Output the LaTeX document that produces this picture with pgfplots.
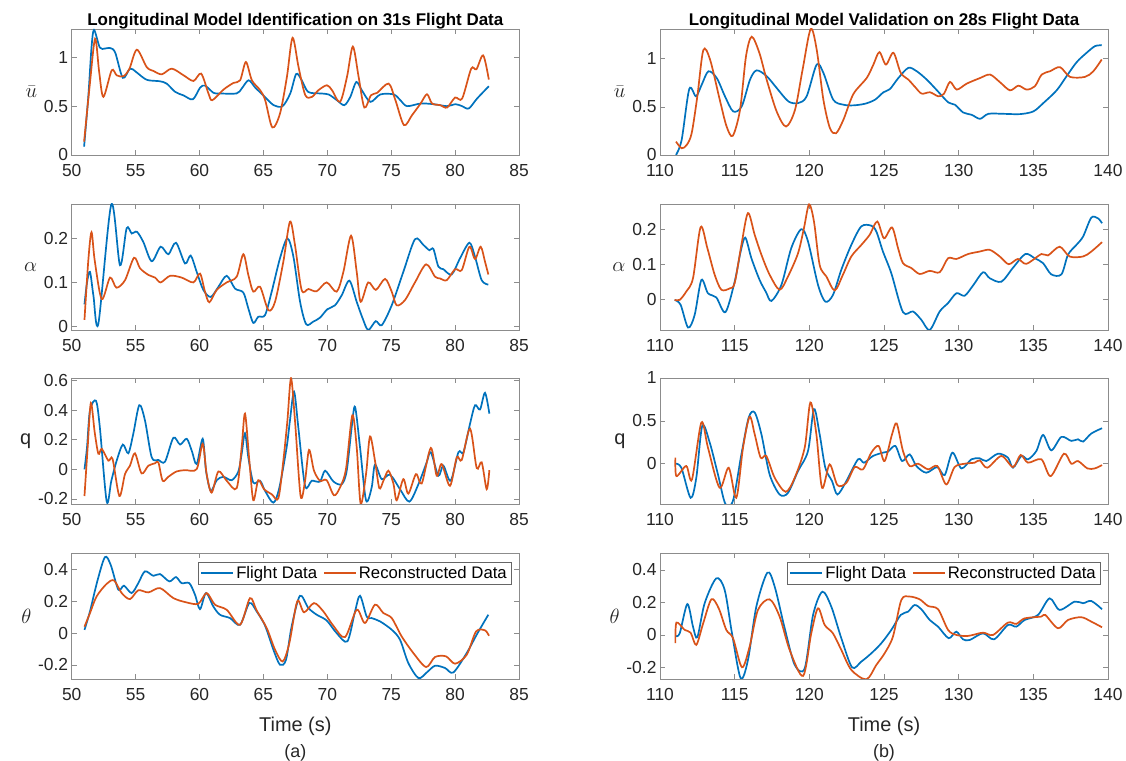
\documentclass[border=0pt]{standalone}
\usepackage{fontspec}
\setmainfont{Liberation Sans}
\usepackage{pgfplots}
\pgfplotsset{compat=1.18}

\definecolor{mblue}{rgb}{0,0.447,0.741}
\definecolor{morange}{rgb}{0.850,0.325,0.098}
\definecolor{axgray}{rgb}{0.55,0.55,0.55}
\definecolor{txt}{rgb}{0.15,0.15,0.15}

\pgfplotsset{
  panel/.style={
    scale only axis, anchor=south west, height=126bp,
    axis line style={draw=axgray, line width=0.7bp},
    every tick/.style={draw=axgray, line width=0.7bp},
    major tick length=5bp, tick align=inside,
    tick label style={font=\fontsize{17.5}{20}\selectfont, text=txt},
    xticklabel style={yshift=-6bp},
    /pgf/number format/assume math mode=true,
    ylabel style={rotate=-90, anchor=east, font=\fontsize{20}{22}\selectfont, text=txt},
    every axis plot/.append style={line width=1.7bp, smooth},
  },
  leftp/.style={panel, width=447.3bp, xmin=50, xmax=85, xtick={50,55,...,85}},
  rightp/.style={panel, width=448bp, xmin=110, xmax=140, xtick={110,115,...,140}},
  leg/.style={
    legend columns=2,
    legend style={at={(1,1)}, anchor=north east, xshift=-8bp, yshift=-9bp,
      draw=black!60, font=\fontsize{16.8}{18}\selectfont, text=black,
      inner sep=2bp, /tikz/every even column/.append style={column sep=4bp}},
    legend image code/.code={\draw[##1, line width=1.7bp] (0bp,0bp) -- (32bp,0bp);},
  },
}

\begin{document}
\begin{tikzpicture}
\path[use as bounding box] (0,0) rectangle (1126bp,761bp);

% ---------- left column ----------
\begin{axis}[leftp, at={(71.7bp,606bp)}, ymin=0, ymax=1.29, ytick={0,0.5,1}, ylabel={$\bar{u}$}]
\addplot[mblue] coordinates {(50.97,0.085)(51.3,0.6)(51.55,1.1)(51.75,1.28)(52.2,1.1)(52.6,1.09)(53.0,1.095)(53.4,1.05)(54.0,0.79)(54.57,0.885)(55.04,0.85)(55.87,0.77)(56.9,0.755)(57.44,0.73)(58.1,0.646)(58.75,0.61)(59.48,0.57)(60.05,0.69)(60.44,0.71)(61.1,0.636)(61.6,0.63)(62.9,0.63)(63.3,0.68)(63.84,0.765)(64.36,0.69)(65.0,0.61)(65.8,0.51)(66.5,0.50)(67.1,0.63)(67.57,0.83)(68.0,0.765)(68.5,0.646)(69.45,0.63)(70.1,0.62)(70.76,0.56)(71.33,0.51)(71.8,0.595)(72.27,0.748)(72.7,0.663)(73.37,0.544)(74.15,0.62)(75.2,0.62)(75.72,0.56)(76.24,0.50)(77.3,0.527)(78.33,0.52)(79.37,0.50)(80.03,0.52)(80.55,0.50)(81.07,0.476)(81.72,0.578)(82.64,0.704)};
\addplot[morange] coordinates {(50.97,0.136)(51.4,0.7)(51.83,1.19)(52.15,0.85)(52.48,0.595)(53.13,0.867)(53.52,0.816)(54.05,0.806)(54.52,0.884)(55.1,1.078)(55.87,0.90)(56.4,0.86)(57.05,0.826)(57.83,0.884)(58.75,0.816)(59.53,0.758)(60.13,0.833)(60.7,0.63)(61.0,0.561)(61.88,0.67)(62.66,0.738)(63.18,0.765)(63.63,0.952)(64.1,0.765)(64.75,0.663)(65.14,0.561)(65.7,0.282)(66.3,0.425)(66.84,0.80)(67.28,1.20)(67.75,0.90)(68.28,0.612)(68.8,0.595)(69.3,0.663)(69.97,0.714)(70.37,0.663)(71.0,0.544)(71.54,0.80)(72.0,1.11)(72.45,0.80)(72.9,0.486)(73.42,0.612)(73.9,0.636)(74.8,0.731)(75.33,0.561)(76.0,0.306)(76.63,0.408)(77.3,0.527)(77.8,0.622)(78.2,0.527)(78.85,0.51)(79.37,0.486)(80.0,0.588)(80.55,0.578)(81.26,0.884)(81.67,0.878)(82.2,1.02)(82.64,0.772)};
\end{axis}

\begin{axis}[leftp, at={(71.7bp,431bp)}, ymin=-0.008, ymax=0.278, ytick={0,0.1,0.2}, ylabel={$\alpha$}]
\addplot[mblue] coordinates {(51.0,0.05)(51.2,0.1)(51.43,0.124)(51.7,0.07)(52.09,0.007)(53.1,0.277)(53.78,0.139)(54.3,0.223)(54.7,0.211)(55.1,0.215)(55.6,0.192)(56.26,0.148)(56.96,0.181)(57.56,0.164)(58.16,0.19)(58.87,0.143)(59.31,0.161)(59.78,0.124)(60.3,0.083)(60.88,0.067)(61.48,0.09)(62.13,0.115)(62.78,0.086)(63.43,0.077)(63.82,0.041)(64.21,0.008)(64.6,0.022)(65.13,0.026)(65.65,0.079)(66.3,0.155)(66.88,0.2)(67.35,0.158)(67.87,0.056)(68.35,0.005)(68.9,0.011)(69.43,0.02)(70.0,0.039)(70.6,0.048)(71.13,0.071)(71.73,0.104)(72.3,0.056)(72.77,0.018)(73.2,-0.008)(73.79,0.012)(74.26,0.003)(75.04,0.048)(75.95,0.124)(76.86,0.198)(77.52,0.185)(77.99,0.173)(78.3,0.176)(78.69,0.136)(79.08,0.13)(79.73,0.118)(80.39,0.155)(81.12,0.19)(81.56,0.158)(82.08,0.105)(82.6,0.095)};
\addplot[morange] coordinates {(51.0,0.015)(51.3,0.15)(51.55,0.214)(51.8,0.15)(52.35,0.062)(53.0,0.111)(53.5,0.088)(54.17,0.105)(54.88,0.156)(55.35,0.132)(56.0,0.117)(56.52,0.111)(56.96,0.1)(57.7,0.115)(58.6,0.111)(59.52,0.1)(60.04,0.12)(60.43,0.079)(60.77,0.055)(61.35,0.083)(62.13,0.1)(62.91,0.113)(63.43,0.164)(63.82,0.117)(64.21,0.079)(64.74,0.09)(65.39,0.037)(65.91,0.056)(66.56,0.147)(67.08,0.238)(67.47,0.185)(67.99,0.083)(68.52,0.085)(69.17,0.08)(69.95,0.1)(70.73,0.079)(71.26,0.124)(71.86,0.206)(72.3,0.124)(72.61,0.056)(73.2,0.1)(73.8,0.083)(74.52,0.108)(75.04,0.079)(75.43,0.048)(76.08,0.06)(76.86,0.1)(77.73,0.141)(78.43,0.113)(78.82,0.109)(79.34,0.105)(80.0,0.13)(80.52,0.128)(81.12,0.181)(81.56,0.153)(82.0,0.181)(82.34,0.147)(82.6,0.118)};
\end{axis}

\begin{axis}[leftp, at={(71.7bp,257bp)}, ymin=-0.234, ymax=0.618, ytick={-0.2,0,0.2,0.4,0.6}, ylabel={q}]
\addplot[mblue] coordinates {(51.0,0.0)(51.2,0.15)(51.43,0.4)(51.9,0.464)(52.2,0.286)(52.74,-0.218)(53.1,-0.077)(53.52,0.059)(54.0,0.168)(54.43,0.109)(54.82,0.241)(55.29,0.434)(55.73,0.332)(56.26,0.082)(56.78,0.064)(57.3,0.052)(57.96,0.214)(58.48,0.168)(59.0,0.207)(59.39,0.127)(59.78,0.036)(60.25,0.207)(60.51,-0.009)(60.88,-0.145)(61.35,-0.073)(61.87,-0.05)(62.52,-0.073)(63.04,-0.014)(63.3,0.105)(63.56,0.245)(63.82,0.082)(64.21,-0.089)(64.74,-0.077)(65.13,-0.145)(65.78,-0.225)(66.25,-0.123)(66.82,0.15)(67.08,0.332)(67.4,0.525)(67.73,0.286)(68.26,-0.111)(68.78,-0.077)(69.43,-0.082)(69.83,-0.009)(70.48,-0.082)(71.13,-0.1)(71.52,-0.009)(71.91,0.286)(72.17,0.423)(72.56,0.15)(73.03,-0.209)(73.47,-0.123)(73.73,0.032)(74.26,-0.066)(74.91,-0.036)(75.69,-0.134)(76.42,-0.218)(77.13,-0.1)(77.78,0.048)(78.1,0.116)(78.69,-0.043)(79.08,0.025)(79.65,-0.077)(80.26,0.116)(80.65,0.116)(81.17,0.309)(81.56,0.434)(81.95,0.405)(82.34,0.518)(82.68,0.377)};
\addplot[morange] coordinates {(51.0,-0.18)(51.25,0.15)(51.5,0.45)(51.8,0.25)(52.09,0.105)(52.35,0.139)(52.87,0.059)(53.2,0.07)(53.73,-0.18)(54.17,-0.032)(54.56,0.025)(54.95,0.109)(55.47,-0.027)(56.0,0.025)(56.52,0.041)(56.78,0.048)(57.12,-0.077)(57.56,-0.05)(58.2,-0.014)(58.87,-0.005)(59.78,0.002)(60.25,0.173)(60.56,-0.032)(60.95,-0.157)(61.48,-0.014)(62.13,-0.077)(62.91,-0.127)(63.3,0.15)(63.56,0.377)(63.9,0.059)(64.21,-0.209)(64.6,-0.073)(65.05,-0.134)(65.65,-0.168)(66.17,-0.195)(66.56,0.059)(66.88,0.332)(67.16,0.616)(67.47,0.332)(67.91,-0.18)(68.26,-0.077)(68.57,0.132)(68.96,-0.009)(69.43,-0.077)(69.95,-0.073)(70.52,-0.175)(70.99,-0.123)(71.46,0.002)(71.96,0.366)(72.3,0.15)(72.61,-0.232)(73.03,-0.032)(73.34,0.223)(73.73,0.059)(74.07,-0.127)(74.39,-0.077)(74.78,-0.009)(75.17,-0.095)(75.43,-0.209)(75.95,-0.066)(76.34,-0.164)(76.94,-0.032)(77.39,-0.095)(78.1,0.145)(78.56,-0.043)(78.95,0.036)(79.6,-0.111)(80.13,0.082)(80.52,0.064)(81.17,0.275)(81.69,0.009)(82.08,0.048)(82.47,-0.134)(82.68,-0.005)};
\end{axis}

\begin{axis}[leftp, leg, at={(71.7bp,82bp)}, ymin=-0.288, ymax=0.502, ytick={-0.2,0,0.2,0.4}, ylabel={$\theta$}]
\addplot[mblue] coordinates {(51.0,0.02)(51.43,0.136)(52.0,0.324)(52.6,0.476)(53.05,0.428)(53.65,0.272)(54.09,0.297)(54.69,0.251)(55.21,0.313)(55.73,0.387)(56.39,0.359)(56.91,0.37)(57.64,0.324)(58.16,0.351)(58.6,0.313)(59.2,0.313)(59.65,0.24)(60.04,0.15)(60.51,0.251)(61.08,0.167)(61.6,0.115)(62.39,0.094)(63.17,0.052)(63.9,0.188)(64.47,0.136)(65.13,0.046)(65.78,-0.104)(66.3,-0.199)(66.77,-0.167)(67.21,0.042)(67.86,0.234)(68.52,0.157)(69.17,0.115)(69.95,0.079)(70.73,0)(71.57,-0.052)(72.17,0.136)(72.56,0.234)(73.08,0.104)(73.47,0.094)(74.13,0.073)(75.04,0.021)(75.69,-0.042)(76.34,-0.188)(77.13,-0.282)(77.78,-0.247)(78.43,-0.205)(79.21,-0.219)(79.86,-0.247)(80.91,-0.125)(81.69,-0.01)(82.6,0.115)};
\addlegendentry{Flight Data}
\addplot[morange] coordinates {(51.0,0.04)(51.43,0.125)(51.95,0.23)(52.74,0.309)(53.31,0.33)(53.91,0.251)(54.56,0.213)(55.21,0.268)(56.0,0.255)(56.91,0.282)(57.96,0.219)(59.0,0.192)(59.91,0.184)(60.56,0.251)(61.21,0.178)(62.13,0.146)(63.17,0.052)(63.95,0.219)(64.47,0.142)(65.26,0.031)(65.91,-0.104)(66.51,-0.178)(67.03,-0.063)(67.65,0.199)(68.18,0.13)(68.96,0.188)(69.69,0.136)(70.47,0.046)(71.39,-0.025)(72.3,0.146)(72.95,0.063)(73.73,0.178)(74.39,0.125)(75.04,0.094)(75.82,-0.021)(76.73,-0.125)(77.73,-0.213)(78.43,-0.15)(79.29,-0.146)(80.0,-0.192)(80.91,-0.136)(81.64,0.01)(82.34,0.017)(82.65,-0.017)};
\addlegendentry{Reconstructed Data}
\end{axis}

% ---------- right column ----------
\begin{axis}[rightp, at={(660bp,606bp)}, ymin=0, ymax=1.31, ytick={0,0.5,1}, ylabel={$\bar{u}$}]
\addplot[mblue] coordinates {(111.07,0)(111.45,0.157)(111.96,0.686)(112.41,0.61)(112.79,0.73)(113.24,0.87)(113.8,0.80)(114.35,0.61)(114.9,0.453)(115.47,0.505)(116.03,0.784)(116.47,0.88)(117.14,0.82)(117.81,0.697)(118.6,0.557)(119.26,0.54)(119.82,0.61)(120.49,0.94)(120.94,0.854)(121.6,0.575)(122.28,0.523)(122.95,0.516)(123.73,0.533)(124.4,0.575)(124.96,0.652)(125.4,0.686)(125.96,0.80)(126.63,0.906)(127.19,0.871)(127.86,0.784)(128.5,0.68)(129.3,0.547)(129.75,0.523)(130.3,0.442)(130.87,0.418)(131.43,0.376)(131.99,0.428)(133.0,0.428)(134.1,0.425)(135.0,0.453)(135.67,0.54)(136.56,0.672)(137.23,0.82)(137.9,0.965)(138.57,1.063)(139.13,1.132)(139.58,1.14)};
\addplot[morange] coordinates {(111.07,0.139)(111.45,0.07)(111.79,0.105)(112.12,0.226)(112.5,0.61)(112.9,1.09)(113.35,0.993)(114.0,0.575)(114.46,0.296)(114.87,0.199)(115.36,0.47)(115.76,1.028)(116.14,1.23)(116.65,1.063)(117.14,0.784)(117.81,0.453)(118.44,0.296)(119.04,0.47)(119.55,0.889)(120.09,1.31)(120.49,1.098)(120.94,0.575)(121.38,0.279)(121.79,0.226)(122.28,0.366)(122.95,0.634)(123.84,0.80)(124.29,0.94)(124.69,1.07)(125.13,0.94)(125.63,1.063)(126.12,0.854)(126.63,0.784)(127.08,0.707)(127.52,0.638)(128.08,0.652)(128.64,0.61)(129.02,0.638)(129.42,0.76)(129.87,0.68)(130.54,0.742)(131.43,0.80)(132.1,0.836)(132.77,0.756)(133.44,0.672)(134.0,0.721)(134.55,0.68)(135.1,0.714)(135.56,0.836)(136.12,0.871)(136.79,0.913)(137.46,0.812)(138.46,0.812)(139.02,0.871)(139.58,0.993)};
\end{axis}

\begin{axis}[rightp, at={(660bp,431bp)}, ymin=-0.088, ymax=0.272, ytick={0,0.1,0.2}, ylabel={$\alpha$}]
\addplot[mblue] coordinates {(110.98,-0.002)(111.38,-0.016)(111.88,-0.081)(112.32,-0.045)(112.77,0.055)(113.21,0.017)(113.77,0.005)(114.38,-0.037)(115.0,0.05)(115.4,0.136)(115.71,0.176)(116.12,0.117)(116.67,0.055)(117.1,0.02)(117.46,-0.005)(118.13,0.041)(118.79,0.146)(119.46,0.2)(119.91,0.165)(120.58,0.041)(121.07,-0.007)(121.58,0.012)(122.14,0.084)(122.81,0.155)(123.48,0.208)(124.15,0.21)(124.49,0.193)(124.93,0.136)(125.49,0.074)(126.27,-0.037)(126.94,-0.035)(127.5,-0.059)(128.06,-0.088)(128.73,-0.035)(129.29,-0.011)(129.85,0.017)(130.4,0.01)(130.96,0.039)(131.63,0.077)(132.08,0.06)(132.86,0.05)(133.64,0.09)(134.46,0.129)(135.09,0.117)(135.65,0.103)(136.2,0.071)(136.88,0.071)(137.32,0.127)(137.88,0.155)(138.33,0.179)(138.88,0.233)(139.33,0.231)(139.6,0.217)};
\addplot[morange] coordinates {(110.98,-0.002)(111.32,-0.002)(111.76,0.022)(112.21,0.06)(112.72,0.206)(113.17,0.146)(113.66,0.07)(114.11,0.027)(114.67,0.031)(115.0,0.046)(115.45,0.155)(115.89,0.246)(116.34,0.184)(116.79,0.127)(117.34,0.07)(118.01,0.027)(118.57,0.065)(119.24,0.131)(119.64,0.203)(119.98,0.271)(120.31,0.222)(120.69,0.098)(121.14,0.065)(121.7,0.025)(122.25,0.07)(122.81,0.122)(123.48,0.155)(124.04,0.184)(124.55,0.222)(125.0,0.174)(125.54,0.205)(125.94,0.146)(126.27,0.103)(126.83,0.089)(127.39,0.072)(128.06,0.081)(128.73,0.077)(129.29,0.117)(129.85,0.115)(130.63,0.129)(131.4,0.136)(132.08,0.141)(132.75,0.122)(133.35,0.1)(133.97,0.115)(134.53,0.101)(135.54,0.129)(135.98,0.125)(136.76,0.15)(137.43,0.122)(138.33,0.122)(138.88,0.136)(139.6,0.163)};
\end{axis}

\begin{axis}[rightp, at={(660bp,257bp)}, ymin=-0.47, ymax=1.0, ytick={0,0.5,1}, ylabel={q}]
\addplot[mblue] coordinates {(111.03,0)(111.43,-0.047)(112.05,-0.398)(112.43,-0.164)(112.83,0.441)(113.33,0.246)(113.88,-0.125)(114.38,-0.469)(114.89,-0.43)(115.45,0.109)(115.94,0.539)(116.34,0.598)(116.79,0.344)(117.34,-0.125)(118.01,-0.359)(118.57,-0.34)(119.24,-0.086)(119.91,0.148)(120.31,0.637)(120.69,0.344)(121.07,-0.047)(121.52,-0.203)(121.88,-0.359)(122.48,-0.203)(123.26,0.051)(123.66,0.012)(124.26,0.09)(124.93,0.129)(125.27,0.141)(125.76,0.207)(126.21,0.031)(126.72,0.109)(127.17,-0.027)(127.83,-0.105)(128.57,-0.039)(129.06,-0.133)(129.58,0.129)(130.18,-0.055)(130.85,0.051)(131.41,0.063)(131.85,0.031)(132.63,0.117)(133.3,0.07)(133.64,-0.047)(134.2,0.09)(134.64,0.051)(135.2,0.148)(135.65,0.336)(136.2,0.156)(136.88,0.313)(137.54,0.266)(137.99,0.285)(138.33,0.258)(138.88,0.352)(139.6,0.414)};
\addplot[morange] coordinates {(111.03,0.07)(111.1,-0.145)(111.76,-0.027)(112.14,-0.184)(112.77,0.48)(113.21,0.188)(113.99,-0.281)(114.6,-0.047)(115.11,-0.398)(115.56,0.188)(116.0,0.547)(116.34,0.344)(116.74,0.07)(117.12,0.09)(117.68,-0.164)(118.42,-0.328)(119.02,-0.164)(119.69,0.188)(120.07,0.715)(120.47,0.344)(120.85,-0.281)(121.36,-0.008)(121.88,-0.25)(122.48,-0.223)(123.04,-0.039)(123.59,-0.066)(124.15,0.129)(124.64,0.207)(125.04,0.031)(125.54,0.344)(125.85,0.469)(126.27,0.148)(126.72,-0.027)(127.28,0)(127.95,-0.066)(128.57,-0.027)(129.17,-0.242)(129.73,-0.039)(130.4,0)(131.07,0.012)(131.41,0.039)(131.92,-0.047)(132.86,0.09)(133.64,-0.039)(134.15,0.102)(134.64,0.012)(135.54,0.051)(136.16,-0.145)(137.05,0.117)(137.54,0)(137.99,0.031)(138.62,-0.055)(139.11,-0.055)(139.6,-0.016)};
\end{axis}

\begin{axis}[rightp, leg, at={(660bp,82bp)}, ymin=-0.271, ymax=0.504, ytick={-0.2,0,0.2,0.4}, ylabel={$\theta$}]
\addplot[mblue] coordinates {(111.03,-0.006)(111.32,0.01)(111.83,0.19)(112.21,0.051)(112.5,-0.014)(112.99,0.195)(113.77,0.348)(114.33,0.277)(114.82,0.01)(115.4,-0.266)(115.89,-0.154)(116.45,0.174)(117.19,0.383)(117.68,0.297)(118.35,0.041)(119.02,-0.184)(119.69,-0.205)(120.25,0.123)(120.87,0.266)(121.47,0.174)(122.14,-0.02)(122.86,-0.199)(123.48,-0.164)(124.15,-0.113)(124.82,-0.051)(125.49,0.031)(126.12,0.123)(126.61,0.143)(127.05,0.184)(127.5,0.158)(128.06,0.092)(128.62,0.051)(129.33,-0.02)(129.84,0.02)(130.29,-0.027)(130.74,-0.031)(131.63,0.01)(132.37,-0.027)(133.3,0.061)(133.86,0.051)(134.42,0.092)(135.31,0.123)(136.09,0.225)(136.76,0.154)(137.77,0.205)(138.33,0.195)(138.88,0.209)(139.6,0.158)};
\addlegendentry{Flight Data}
\addplot[morange] coordinates {(111.03,-0.051)(111.1,0.076)(111.65,0.031)(112.05,0.014)(112.43,-0.061)(112.88,0.068)(113.44,0.219)(113.93,0.164)(114.44,0.031)(114.89,-0.02)(115.49,-0.199)(116.0,-0.072)(116.56,0.154)(117.34,0.219)(118.01,0.113)(118.68,-0.092)(119.58,-0.252)(120.13,0.01)(120.58,0.164)(121.03,0.061)(121.58,0.01)(122.14,-0.092)(122.81,-0.215)(123.82,-0.273)(124.49,-0.184)(125.04,-0.113)(125.6,-0.01)(126.16,0.215)(126.72,0.236)(127.39,0.219)(127.95,0.178)(128.62,0.158)(129.29,0.031)(129.84,0)(130.63,-0.006)(131.63,0.014)(132.3,0)(133.3,0.076)(133.86,0.068)(134.42,0.102)(135.54,0.113)(135.8,0.123)(136.65,0.041)(137.32,0.092)(138.21,0.109)(138.88,0.082)(139.6,0.047)};
\addlegendentry{Reconstructed Data}
\end{axis}

% ---------- titles and captions ----------
\node[anchor=base, font=\bfseries\fontsize{17}{19}\selectfont, text=black] at (295.3bp,735bp) {Longitudinal Model Identification on 31s Flight Data};
\node[anchor=base, font=\bfseries\fontsize{17}{19}\selectfont, text=black] at (884bp,735bp) {Longitudinal Model Validation on 28s Flight Data};
\node[anchor=base, font=\fontsize{20}{22}\selectfont, text=txt] at (295.3bp,29.3bp) {Time (s)};
\node[anchor=base, font=\fontsize{20}{22}\selectfont, text=txt] at (884bp,29.3bp) {Time (s)};
\node[anchor=base, font=\fontsize{18}{20}\selectfont, text=txt] at (295.3bp,4bp) {(a)};
\node[anchor=base, font=\fontsize{18}{20}\selectfont, text=txt] at (884bp,4bp) {(b)};
\end{tikzpicture}
\end{document}
